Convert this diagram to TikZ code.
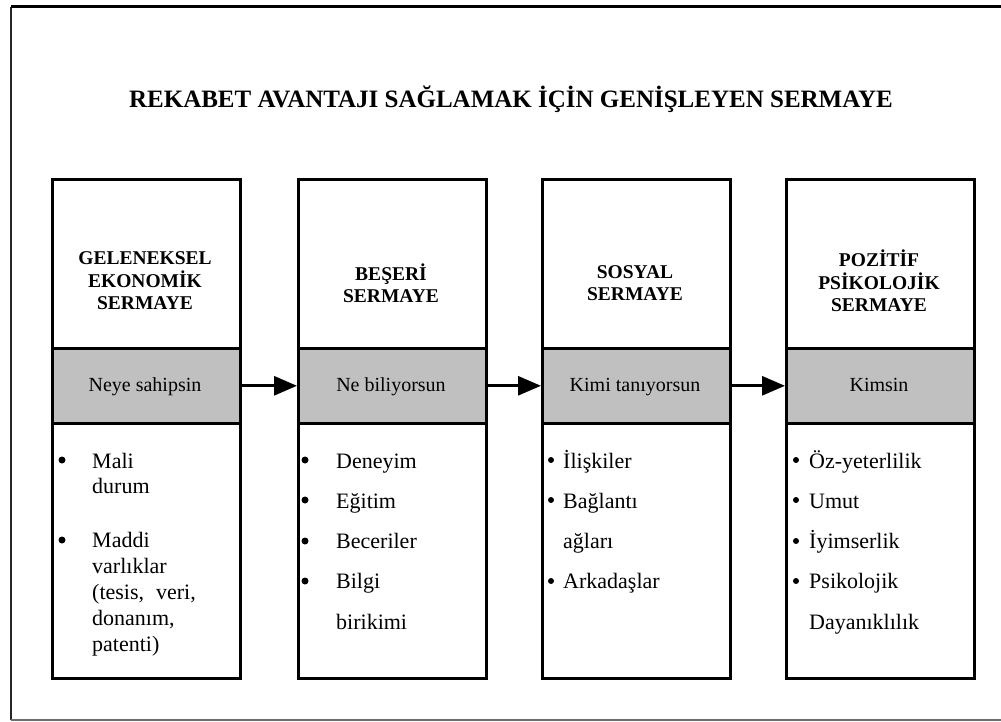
\documentclass[tikz,border=0pt]{standalone}
\usepackage{fontspec}
\setmainfont{Liberation Serif}
\usetikzlibrary{arrows.meta}
\definecolor{boxgray}{RGB}{192,192,192}
\definecolor{framegray}{RGB}{110,110,110}
\begin{document}
\begin{tikzpicture}[x=1pt,y=-1pt,
  part/.style={draw, line width=2.6pt, minimum width=188pt, inner sep=0pt, anchor=north west},
  hdrpart/.style={part, minimum height=169pt},
  graypart/.style={part, fill=boxgray, minimum height=75pt},
  bodypart/.style={part, minimum height=255pt},
  hdrtext/.style={align=center, inner sep=0pt, font=\fontsize{19.5}{22.5}\selectfont\bfseries},
  graytext/.style={anchor=base, inner sep=0pt, font=\fontsize{20}{24}\selectfont},
  itemtext/.style={anchor=base west, inner sep=0pt, font=\fontsize{22}{26}\selectfont},
  dot/.style={circle, fill=black, inner sep=0pt, minimum size=7pt},
  flow/.style={line width=2.8pt, -{Triangle[length=23pt,width=19pt]}}
]
\useasboundingbox (0,0) rectangle (1001,722);
% outer frame
\coordinate (fTL) at (11,7);
\coordinate (fTR) at (1001,7);
\coordinate (fBL) at (11,720);
\coordinate (fBR) at (1001,720);
\draw[line width=2pt, black!85] (fBL) -- (fTL);
\draw[line width=3pt] (fTL) -- (fTR);
\draw[line width=1.2pt, framegray] (fBL) -- (fBR);

% title
\node[anchor=base, inner sep=0pt, font=\fontsize{25}{29}\selectfont\bfseries] (title) at (511,108)
  {REKABET AVANTAJI SAĞLAMAK İÇİN GENİŞLEYEN SERMAYE};

% columns
\node[hdrpart] (h1) at (51,178) {};
\node[graypart] (g1) at (51,347) {};
\node[bodypart] (b1) at (51,422) {};
\node[hdrpart] (h2) at (297,178) {};
\node[graypart] (g2) at (297,347) {};
\node[bodypart] (b2) at (297,422) {};
\node[hdrpart] (h3) at (541,178) {};
\node[graypart] (g3) at (541,347) {};
\node[bodypart] (b3) at (541,422) {};
\node[hdrpart] (h4) at (785,178) {};
\node[graypart] (g4) at (785,347) {};
\node[bodypart] (b4) at (785,422) {};

% header texts
\node[hdrtext] (t1) at (145,281) {GELENEKSEL\\EKONOMİK\\SERMAYE};
\node[hdrtext] (t2) at (391,283) {BEŞERİ\\SERMAYE};
\node[hdrtext] (t3) at (635,283) {SOSYAL\\SERMAYE};
\node[hdrtext] (t4) at (879,281) {POZİTİF\\PSİKOLOJİK\\SERMAYE};

% gray texts
\node[graytext] (n1) at (145,391) {Neye sahipsin};
\node[graytext] (n2) at (391,391) {Ne biliyorsun};
\node[graytext] (n3) at (635,391) {Kimi tanıyorsun};
\node[graytext] (n4) at (879,391) {Kimsin};

% arrows
\draw[flow] (g1.east) -- (g2.west);
\draw[flow] (g2.east) -- (g3.west);
\draw[flow] (g3.east) -- (g4.west);

% column 1 items
\node[dot] (c1b1) at (62,460) {};
\node[itemtext] (c1l1) at (92,468) {Mali};
\node[itemtext] (c1l2) at (92,493) {durum};
\node[dot] (c1b2) at (62,540) {};
\node[itemtext] (c1l3) at (92,547) {Maddi};
\node[itemtext] (c1l4) at (92,573) {varlıklar};
\node[itemtext] (c1l5) at (92,599) {(tesis,\hspace{12pt}veri,};
\node[itemtext] (c1l6) at (92,625) {donanım,};
\node[itemtext] (c1l7) at (92,651) {patenti)};

% column 2 items
\node[dot] (c2b1) at (305,460) {};
\node[itemtext] (c2l1) at (336,468) {Deneyim};
\node[dot] (c2b2) at (305,500) {};
\node[itemtext] (c2l2) at (336,508) {Eğitim};
\node[dot] (c2b3) at (305,541) {};
\node[itemtext] (c2l3) at (336,548) {Beceriler};
\node[dot] (c2b4) at (305,581) {};
\node[itemtext] (c2l4) at (336,588) {Bilgi};
\node[itemtext] (c2l5) at (336,629) {birikimi};

% column 3 items
\node[dot, minimum size=6pt] (c3b1) at (551,460) {};
\node[itemtext] (c3l1) at (563,468) {İlişkiler};
\node[dot, minimum size=6pt] (c3b2) at (551,500) {};
\node[itemtext] (c3l2) at (563,508) {Bağlantı};
\node[itemtext] (c3l3) at (563,548) {ağları};
\node[dot, minimum size=6pt] (c3b3) at (551,581) {};
\node[itemtext] (c3l4) at (563,588) {Arkadaşlar};

% column 4 items
\node[dot, minimum size=6pt] (c4b1) at (796,460) {};
\node[itemtext] (c4l1) at (809,468) {Öz-yeterlilik};
\node[dot, minimum size=6pt] (c4b2) at (796,500) {};
\node[itemtext] (c4l2) at (809,508) {Umut};
\node[dot, minimum size=6pt] (c4b3) at (796,541) {};
\node[itemtext] (c4l3) at (809,548) {İyimserlik};
\node[dot, minimum size=6pt] (c4b4) at (796,581) {};
\node[itemtext] (c4l4) at (809,588) {Psikolojik};
\node[itemtext] (c4l5) at (809,629) {Dayanıklılık};
\end{tikzpicture}
\end{document}
